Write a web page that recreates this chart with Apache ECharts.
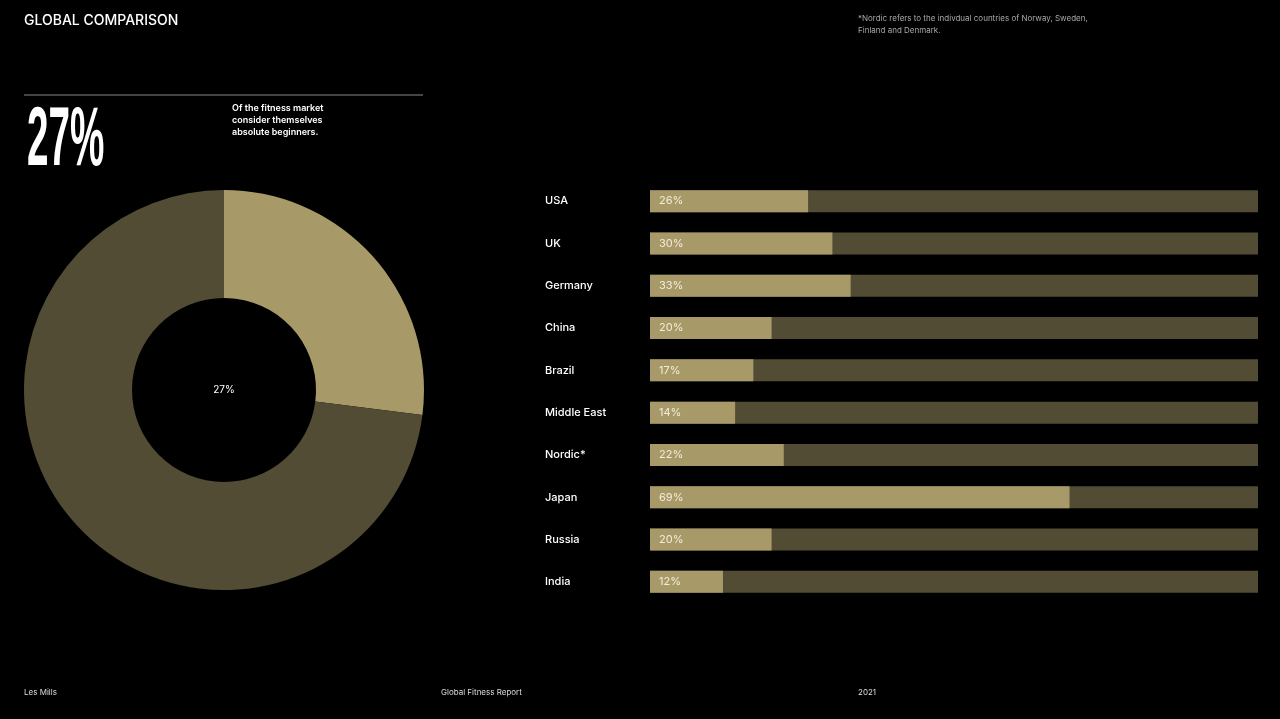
<!DOCTYPE html>
<html>
<head>
<meta charset="utf-8">
<script src="https://cdn.jsdelivr.net/npm/echarts@6/dist/echarts.min.js"></script>
<style>
  html, body { margin: 0; padding: 0; background: #000; }
  #main { width: 1280px; height: 719px; }
</style>
</head>
<body>
<div id="main"></div>
<script>
var countries = ['USA', 'UK', 'Germany', 'China', 'Brazil', 'Middle East', 'Nordic*', 'Japan', 'Russia', 'India'];
var beginnerShares = [26, 30, 33, 20, 17, 14, 22, 69, 20, 12];
var globalBeginners = 27;
var globalOthers = 100 - globalBeginners;

var light = '#a89a68';
var dark = '#524c34';
var font = 'Inter';

var myChart = echarts.init(document.getElementById('main'));

let option = {
    backgroundColor: '#000',
    animation: false,
    textStyle: { fontFamily: font },
    grid: { left: 650, right: 22, top: 180, bottom: 116 },
    xAxis: {
        type: 'value',
        min: 0,
        max: 100,
        show: false
    },
    yAxis: {
        type: 'category',
        data: countries,
        inverse: true,
        axisLine: { show: false },
        axisTick: { show: false },
        axisLabel: {
            color: '#fff',
            fontSize: 11,
            fontWeight: 500,
            fontFamily: font,
            align: 'left',
            margin: 105
        }
    },
    graphic: [
        {
            type: 'text', left: 24, top: 14,
            style: { text: 'GLOBAL COMPARISON', fill: '#fff', font: '500 14px Inter' }
        },
        {
            type: 'text', left: 858, top: 13,
            style: {
                text: '*Nordic refers to the indivdual countries of Norway, Sweden,\nFinland and Denmark.',
                fill: '#a8a8a8', font: '8px Inter', lineHeight: 12
            }
        },
        {
            type: 'line',
            shape: { x1: 24, y1: 95, x2: 423, y2: 95 },
            style: { stroke: '#8a8a8a', lineWidth: 1 }
        },
        {
            type: 'text', x: 27, y: 100, scaleX: 0.46,
            style: { text: '27%', fill: '#fff', font: 'bold 84px "Liberation Sans"' }
        },
        {
            type: 'text', left: 232, top: 102,
            style: {
                text: 'Of the fitness market\nconsider themselves\nabsolute beginners.',
                fill: '#fff', font: '600 9px Inter', lineHeight: 12
            }
        },
        {
            type: 'text', left: 24, top: 689,
            style: { text: 'Les Mills', fill: '#ddd', font: '8px Inter' }
        },
        {
            type: 'text', left: 441, top: 689,
            style: { text: 'Global Fitness Report', fill: '#ddd', font: '8px Inter' }
        },
        {
            type: 'text', left: 858, top: 689,
            style: { text: '2021', fill: '#ddd', font: '8px Inter' }
        }
    ],
    series: [
        {
            type: 'bar',
            data: beginnerShares,
            barWidth: 22,
            itemStyle: { color: light },
            showBackground: true,
            backgroundStyle: { color: dark },
            label: {
                show: true,
                position: 'insideLeft',
                distance: 9,
                formatter: '{c}%',
                color: '#f2ecd8',
                fontSize: 11,
                fontFamily: font
            }
        },
        {
            type: 'pie',
            center: [224, 390],
            radius: [92, 200],
            startAngle: 90,
            clockwise: true,
            silent: true,
            data: [
                {
                    value: globalBeginners,
                    name: 'Beginners',
                    itemStyle: { color: light },
                    label: {
                        show: true,
                        position: 'center',
                        formatter: '{c}%',
                        color: '#fff',
                        fontSize: 10,
                        fontFamily: font
                    }
                },
                {
                    value: globalOthers,
                    name: 'Others',
                    itemStyle: { color: dark },
                    label: { show: false }
                }
            ],
            labelLine: { show: false }
        }
    ]
};

myChart.setOption(option);
</script>
</body>
</html>
